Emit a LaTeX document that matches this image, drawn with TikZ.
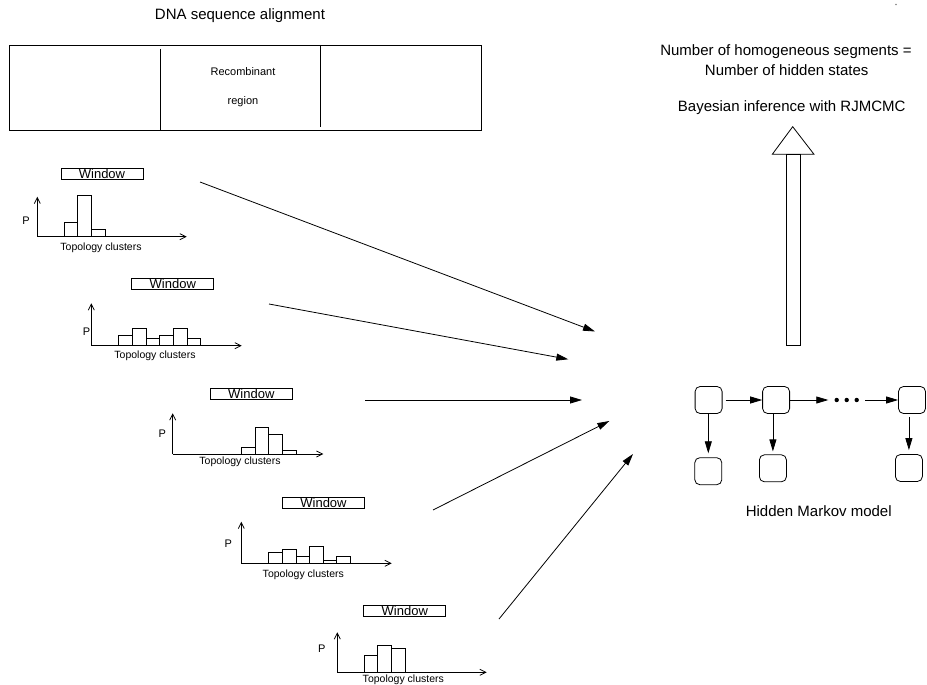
\documentclass[tikz,border=0pt]{standalone}
\usepackage{fontspec}
\setmainfont{Liberation Sans}
\usetikzlibrary{arrows.meta}
\begin{document}
\begin{tikzpicture}[x=1pt,y=-1pt,line width=0.8pt,
  conn/.style={-{Triangle[length=12pt,width=7pt]},line width=0.8pt},
  axisline/.style={-{Straight Barb[length=6pt,width=6pt]},line width=0.8pt},
  winbox/.style={draw,minimum width=82pt,minimum height=11pt,inner sep=0pt,
    font=\fontsize{13}{13}\selectfont},
  bigtext/.style={anchor=base,inner sep=0pt,font=\fontsize{15}{15}\selectfont},
  smalltext/.style={anchor=base,inner sep=0pt,font=\fontsize{10.5}{10.5}\selectfont},
  ptext/.style={anchor=base,inner sep=0pt,font=\fontsize{11}{11}\selectfont},
  state/.style={draw,rounded corners=5pt,minimum width=27pt,minimum height=27pt,inner sep=0pt}]
\useasboundingbox (0,0) rectangle (927,685);

% alignment block
\node[bigtext] (title) at (240,19.5) {DNA sequence alignment};
\draw (9,45) rectangle (481,130);
\draw (160,49) -- (160,130);
\draw (320,45) -- (320,127);
\node[smalltext,font=\fontsize{11}{11}\selectfont] (recomb) at (243,75.5) {Recombinant};
\node[smalltext,font=\fontsize{11}{11}\selectfont] (region) at (243,104) {region};

% histogram 1
\node[winbox] (w1) at (102,174.2) {Window};
\draw[axisline] (37.3,236.7) -- (37.3,196.7);
\draw[axisline] (37.3,236.7) -- (186.7,236.7);
\foreach \a/\b/\t in {64.3/77.7/222.3,77.7/91/195,91/105.3/229.3}
  \draw (\a,236.7) rectangle (\b,\t);
\node[ptext] (p1) at (26,224) {P};
\node[smalltext] (t1) at (101,250.7) {Topology clusters};

% histogram 2
\node[winbox] (w2) at (172.8,283.7) {Window};
\draw[axisline] (91.3,345.7) -- (91.3,303.3);
\draw[axisline] (91.3,345.7) -- (241.7,345.7);
\foreach \a/\b/\t in {118.3/132.3/335,132.3/146.3/328.3,146.3/159.3/338.3,159.3/173/335,173/187/328.3,187/200.7/338.3}
  \draw (\a,345.7) rectangle (\b,\t);
\node[ptext] (p2) at (86.5,335.7) {P};
\node[smalltext] (t2) at (155,358.7) {Topology clusters};

% histogram 3
\node[winbox] (w3) at (251.3,393.8) {Window};
\draw[axisline] (172.7,454) -- (172.7,413.3);
\draw[axisline] (172.7,454) -- (323.3,454);
\foreach \a/\b/\t in {241/255/447.3,255/268.7/427.3,268.7/282.3/434,282.3/296/450.7}
  \draw (\a,454) rectangle (\b,\t);
\node[ptext] (p3) at (162.3,437.3) {P};
\node[smalltext] (t3) at (240,464.7) {Topology clusters};

% histogram 4
\node[winbox] (w4) at (323.5,502.8) {Window};
\draw[axisline] (241.3,563.3) -- (241.3,521.7);
\draw[axisline] (241.3,563.3) -- (391.7,563.3);
\foreach \a/\b/\t in {268.3/282.3/552.7,282.3/296.3/549.3,296.3/309.7/556.7,309.7/323.3/546.7,323.3/336.7/560,336.7/350.3/556.7}
  \draw (\a,563.3) rectangle (\b,\t);
\node[ptext] (p4) at (228.3,547.3) {P};
\node[smalltext] (t4) at (303.3,577) {Topology clusters};

% histogram 5
\node[winbox] (w5) at (404.8,611.2) {Window};
\draw[axisline] (337.3,672.3) -- (337.3,632.3);
\draw[axisline] (337.3,672.3) -- (486.7,672.3);
\foreach \a/\b/\t in {364/377.7/655.7,377.7/391.3/645,391.3/405.3/648.3}
  \draw (\a,672.3) rectangle (\b,\t);
\node[ptext] (p5) at (321.7,652.3) {P};
\node[smalltext] (t5) at (403.3,682.5) {Topology clusters};

% window results converging
\coordinate (s1) at (200,182);   \coordinate (e1) at (595,331.5);
\coordinate (s2) at (269,304);   \coordinate (e2) at (568.3,359.3);
\coordinate (s3) at (365,400);   \coordinate (e3) at (582,400);
\coordinate (s4) at (433,510);   \coordinate (e4) at (609.3,421);
\coordinate (s5) at (499,619);   \coordinate (e5) at (633,454);
\foreach \i in {1,...,5} \draw[conn] (s\i) -- (e\i);

% hidden Markov model
\node[state] (h1) at (708.6,400) {};
\node[state] (h2) at (776.1,400) {};
\node[state] (h3) at (912,400) {};
\node[state] (o1) at (708.3,471.2) {};
\node[state] (o2) at (772.9,468.3) {};
\node[state] (o3) at (908.9,468) {};
\node[minimum width=36pt,minimum height=6pt,inner sep=0pt] (dots) at (846.7,400) {};
\foreach \x in {836.7,846.7,856.7} \fill (\x,400) circle (2.2pt);
\draw[conn,shorten <=3pt] (h1.east) -- (h2.west);
\draw[conn] (h2.east) -- (dots.west);
\draw[conn] (dots.east) -- (h3.west);
\draw[conn,shorten >=4pt] (h1.south -| o1.north) -- (o1.north);
\draw[conn,shorten >=3pt] (h2.south -| o2.north) -- (o2.north);
\draw[conn,shorten >=4pt,shorten <=3pt] (h3.south -| o3.north) -- (o3.north);
\node[bigtext] (hmm) at (818.7,516.5) {Hidden Markov model};

% inference arrow and result
\draw (786.7,154.3) rectangle (800.7,345.3);
\draw (772.3,154.3) -- (792.7,126.7) -- (814,154.3) -- cycle;
\node[bigtext] (bayes) at (791.7,111) {Bayesian inference with RJMCMC};
\node[bigtext] (seg) at (786,56) {Number of homogeneous segments =};
\node[bigtext] (hid) at (786.7,76) {Number of hidden states};
\fill[gray] (896,4.5) circle (0.8pt);
\end{tikzpicture}
\end{document}
